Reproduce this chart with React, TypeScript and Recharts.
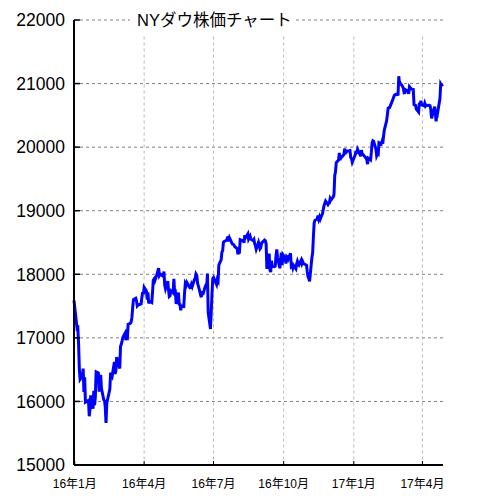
import React from 'react';
import { LineChart, Line, XAxis, YAxis, CartesianGrid, ReferenceLine } from 'recharts';

// NYダウ 終値 (月ごと、[日, 終値])
const dec15 = [[31, 17590]];
const jan16 = [[4, 17149], [5, 17159], [6, 16907], [7, 16514], [8, 16346], [11, 16399], [12, 16516], [13, 16151], [14, 16379], [15, 15988], [19, 16016], [20, 15767], [21, 15883], [22, 16094], [25, 15885], [26, 16167], [27, 15944], [28, 16070], [29, 16466]];
const feb16 = [[1, 16449], [2, 16154], [3, 16337], [4, 16417], [5, 16205], [8, 16027], [9, 16014], [10, 15915], [11, 15660], [12, 15974], [16, 16196], [17, 16454], [18, 16413], [19, 16392], [22, 16621], [23, 16432], [24, 16485], [25, 16697], [26, 16640], [29, 16517]];
const mar16 = [[1, 16865], [2, 16899], [3, 16944], [4, 17007], [7, 17074], [8, 16964], [9, 17000], [10, 16995], [11, 17213], [14, 17229], [15, 17252], [16, 17326], [17, 17481], [18, 17602], [21, 17624], [22, 17583], [23, 17503], [24, 17516], [28, 17535], [29, 17633], [30, 17717], [31, 17685]];
const apr16 = [[1, 17793], [4, 17737], [5, 17603], [6, 17716], [7, 17542], [8, 17577], [11, 17556], [12, 17721], [13, 17908], [14, 17926], [15, 17897], [18, 18004], [19, 18054], [20, 18096], [21, 17983], [22, 18004], [25, 17977], [26, 17990], [27, 18042], [28, 17831], [29, 17774]];
const may16 = [[2, 17891], [3, 17751], [4, 17651], [5, 17661], [6, 17741], [9, 17706], [10, 17928], [11, 17711], [12, 17721], [13, 17535], [16, 17711], [17, 17530], [18, 17527], [19, 17435], [20, 17501], [23, 17493], [24, 17706], [25, 17852], [26, 17828], [27, 17873], [31, 17787]];
const jun16 = [[1, 17790], [2, 17839], [3, 17807], [6, 17920], [7, 17938], [8, 18005], [9, 17985], [10, 17865], [13, 17732], [14, 17675], [15, 17640], [16, 17733], [17, 17675], [20, 17805], [21, 17830], [22, 17781], [23, 18011], [24, 17401], [27, 17140], [28, 17410], [29, 17695], [30, 17930]];
const jul16 = [[1, 17949], [5, 17841], [6, 17919], [7, 17896], [8, 18147], [11, 18227], [12, 18348], [13, 18372], [14, 18506], [15, 18517], [18, 18533], [19, 18559], [20, 18595], [21, 18517], [22, 18571], [25, 18493], [26, 18474], [27, 18472], [28, 18456], [29, 18432]];
const aug16 = [[1, 18405], [2, 18314], [3, 18355], [4, 18352], [5, 18544], [8, 18529], [9, 18533], [10, 18496], [11, 18614], [12, 18576], [15, 18636], [16, 18552], [17, 18574], [18, 18598], [19, 18553], [22, 18529], [23, 18547], [24, 18481], [25, 18448], [26, 18395], [29, 18503], [30, 18454], [31, 18401]];
const sep16 = [[1, 18419], [2, 18492], [6, 18538], [7, 18526], [8, 18480], [9, 18085], [12, 18325], [13, 18067], [14, 18035], [15, 18212], [16, 18124], [19, 18120], [20, 18130], [21, 18294], [22, 18392], [23, 18261], [26, 18095], [27, 18228], [28, 18339], [29, 18143], [30, 18308]];
const oct16 = [[3, 18254], [4, 18168], [5, 18281], [6, 18269], [7, 18240], [10, 18329], [11, 18129], [12, 18144], [13, 18099], [14, 18138], [17, 18086], [18, 18162], [19, 18203], [20, 18162], [21, 18146], [24, 18223], [25, 18169], [26, 18199], [27, 18170], [28, 18161], [31, 18142]];
const nov16 = [[1, 18037], [2, 17960], [3, 17931], [4, 17888], [7, 18260], [8, 18333], [9, 18590], [10, 18808], [11, 18848], [14, 18869], [15, 18923], [16, 18868], [17, 18904], [18, 18868], [21, 18957], [22, 19024], [23, 19083], [25, 19152], [28, 19098], [29, 19122], [30, 19124]];
const dec16 = [[1, 19192], [2, 19170], [5, 19216], [6, 19252], [7, 19550], [8, 19615], [9, 19757], [12, 19796], [13, 19911], [14, 19793], [15, 19852], [16, 19843], [19, 19883], [20, 19975], [21, 19942], [22, 19919], [23, 19934], [27, 19945], [28, 19834], [29, 19820], [30, 19763]];
const jan17 = [[3, 19882], [4, 19942], [5, 19899], [6, 19964], [9, 19887], [10, 19856], [11, 19954], [12, 19891], [13, 19886], [17, 19827], [18, 19805], [19, 19732], [20, 19827], [23, 19800], [24, 19913], [25, 20069], [26, 20101], [27, 20094], [30, 19971], [31, 19864]];
const feb17 = [[1, 19891], [2, 19885], [3, 20071], [6, 20052], [7, 20090], [8, 20054], [9, 20172], [10, 20269], [13, 20412], [14, 20504], [15, 20612], [16, 20620], [17, 20624], [21, 20743], [22, 20776], [23, 20810], [24, 20822], [27, 20837], [28, 20812]];
const mar17 = [[1, 21116], [2, 21003], [3, 21006], [6, 20954], [7, 20925], [8, 20856], [9, 20858], [10, 20903], [13, 20881], [14, 20837], [15, 20950], [16, 20935], [17, 20915], [20, 20906], [21, 20668], [22, 20661], [23, 20657], [24, 20597], [27, 20551], [28, 20702], [29, 20659], [30, 20728], [31, 20663]];
const apr17 = [[3, 20650], [4, 20689], [5, 20648], [6, 20663], [7, 20656], [10, 20658], [11, 20651], [12, 20592], [13, 20453], [17, 20637], [18, 20523], [19, 20404], [20, 20579], [21, 20548], [24, 20764], [25, 20996], [26, 20975], [27, 20981], [28, 20990]];

const months: [number, number, number[][]][] = [
  [2015, 12, dec15], [2016, 1, jan16], [2016, 2, feb16], [2016, 3, mar16], [2016, 4, apr16],
  [2016, 5, may16], [2016, 6, jun16], [2016, 7, jul16], [2016, 8, aug16], [2016, 9, sep16],
  [2016, 10, oct16], [2016, 11, nov16], [2016, 12, dec16], [2017, 1, jan17], [2017, 2, feb17],
  [2017, 3, mar17], [2017, 4, apr17],
];

const tickMonths = [[2016, 1], [2016, 4], [2016, 7], [2016, 10], [2017, 1], [2017, 4]];
const tickLabels = ['16年1月', '16年4月', '16年7月', '16年10月', '17年1月', '17年4月'];
const yTicks = [15000, 16000, 17000, 18000, 19000, 20000, 21000, 22000];

const origin = Date.UTC(2016, 0, 1);
const dayOf = (y: number, m: number, d: number) => (Date.UTC(y, m - 1, d) - origin) / 86400000;

const data = months.flatMap(([y, m, rows]) => rows.map(([d, v]) => ({ d: dayOf(y, m, d), v })));
const tickDays = tickMonths.map(([y, m]) => dayOf(y, m, 1));
const labelOf: Record<number, string> = {};
tickDays.forEach((t, i) => (labelOf[t] = tickLabels[i]));

const font = '"Liberation Sans", "Noto Sans CJK JP", sans-serif';

const YTick = ({ x, y, payload }: any) => (
  <g>
    <line x1={x} x2={x + 6} y1={y} y2={y} stroke="#000" strokeWidth={1.5} />
    <text x={x - 9} y={y} dy="0.36em" textAnchor="end" fontSize={17.5} fill="#000" fontFamily={font}>
      {payload.value}
    </text>
  </g>
);

const XTick = ({ x, y, payload }: any) => (
  <g>
    <line x1={x} x2={x} y1={y} y2={y - 4} stroke="#000" strokeWidth={1} />
    <text x={x} y={y + 23} textAnchor="middle" fontSize={12} fill="#000" fontFamily={font}>
      {labelOf[payload.value]}
    </text>
  </g>
);

export default function App() {
  return (
    <div style={{ position: 'relative', width: 470, height: 483 }}>
      <LineChart width={470} height={483} data={data} margin={{ top: 12, right: 35, left: 0, bottom: 0 }}>
        <CartesianGrid vertical={false} stroke="#808080" strokeDasharray="3 3" />
        {tickDays.slice(1).map((t) => (
          <ReferenceLine
            key={t}
            segment={[{ x: t, y: 21740 }, { x: t, y: 15000 }]}
            stroke="#b8b8b8"
            strokeDasharray="3 3"
          />
        ))}
        <XAxis
          type="number"
          dataKey="d"
          domain={['dataMin', 'dataMax']}
          ticks={tickDays}
          interval={0}
          height={26}
          tickSize={0}
          tickMargin={0}
          tickLine={false}
          axisLine={{ stroke: '#000', strokeWidth: 2 }}
          tick={<XTick />}
        />
        <YAxis
          type="number"
          domain={[15000, 22000]}
          ticks={yTicks}
          interval={0}
          width={66}
          tickSize={0}
          tickMargin={0}
          tickLine={false}
          axisLine={{ stroke: '#000', strokeWidth: 2 }}
          tick={<YTick />}
        />
        <Line
          type="linear"
          dataKey="v"
          stroke="#0000ff"
          strokeWidth={3}
          dot={false}
          isAnimationActive={false}
        />
      </LineChart>
      <div
        style={{
          position: 'absolute',
          left: 122,
          top: 2,
          padding: '0 4px 0 7px',
          background: '#fff',
          fontFamily: font,
          fontSize: 16.5,
          lineHeight: '20px',
          color: '#000',
          whiteSpace: 'nowrap',
        }}
      >
        NYダウ株価チャート
      </div>
    </div>
  );
}
